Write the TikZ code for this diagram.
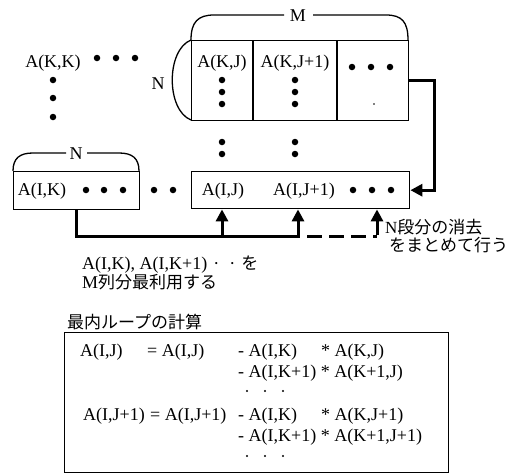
\documentclass[tikz,border=0pt]{standalone}
\usepackage{fontspec}
\setmainfont{Liberation Serif}
\newfontfamily\cjk{Noto Sans CJK JP}
\usetikzlibrary{arrows.meta}
\begin{document}
\begin{tikzpicture}[x=1pt,y=-1pt,
  lbl/.style={font=\fontsize{18}{20}\selectfont, inner sep=0pt},
  jlbl/.style={font=\fontsize{17}{19}\selectfont, inner sep=0pt},
  box/.style={draw, line width=1.4pt, inner sep=0pt, anchor=north west},
  thickline/.style={line width=3pt},
  arr/.style={line width=3pt, -{Triangle[length=12pt,width=12pt]}},
  bigdot/.style={circle, fill, inner sep=0pt, minimum size=6.5pt},
  smalldot/.style={circle, fill, inner sep=0pt, minimum size=2.4pt},
  brace/.style={line width=1.3pt},
  divider/.style={line width=1.4pt}]
\useasboundingbox (0,0) rectangle (520,474);

% ---- top box (row K) ----
\node[box, minimum width=217pt, minimum height=80pt] (kbox) at (191,40) {};
\draw[divider] (253,40) -- (253,120);
\draw[divider] (337,40) -- (337,120);
\node[lbl, anchor=base] (kj) at (222,67) {A(K,J)};
\node[lbl, anchor=base] (kj1) at (295,67) {A(K,J+1)};
\foreach \yy [count=\i] in {80,92,104} {
  \node[bigdot] (kjd\i) at (222,\yy) {};
  \node[bigdot] (kj1d\i) at (295,\yy) {};
}
\foreach \xx [count=\i] in {352,371,390} \node[bigdot] (kcd\i) at (\xx,67) {};
\node[smalldot, minimum size=1.8pt] (kcs) at (374,104) {};

% M brace
\draw[brace] (191,40) .. controls (191,22) and (198,15) .. (214,15) -- (284,15);
\draw[brace] (313,15) -- (386,15) .. controls (402,15) and (408,22) .. (408,40);
\node[lbl, anchor=base] (mlab) at (298,21) {M};
% N bracket (left of top box)
\draw[brace] (191,40) .. controls (166,50) and (166,110) .. (191,120);
\node[lbl, anchor=base] (nlab) at (158,89) {N};

% ---- A(K,K) ----
\node[lbl, anchor=base] (kk) at (53,67) {A(K,K)};
\foreach \xx [count=\i] in {97,116,135} \node[bigdot] (kkh\i) at (\xx,58) {};
\foreach \yy [count=\i] in {80,98,117} \node[bigdot] (kkv\i) at (53,\yy) {};

% dots between boxes
\foreach \yy [count=\i] in {142,154} {
  \node[bigdot] (mja\i) at (222,\yy) {};
  \node[bigdot] (mjb\i) at (295,\yy) {};
}

% ---- bottom left box ----
\node[box, minimum width=126pt, minimum height=38pt] (lbox) at (13,171) {};
\node[lbl, anchor=base] (ik) at (42,195) {A(I,K)};
\foreach \xx [count=\i] in {86,104,123} \node[bigdot] (ikd\i) at (\xx,190) {};
\draw[brace] (13,171) .. controls (13,158) and (20,153) .. (33,153) -- (66,153);
\draw[brace] (87,153) -- (119,153) .. controls (132,153) and (139,158) .. (139,171);
\node[lbl, anchor=base] (nlab2) at (76,159) {N};
\foreach \xx [count=\i] in {154,173} \node[bigdot] (md\i) at (\xx,190) {};

% ---- bottom right box ----
\node[box, minimum width=218pt, minimum height=37pt] (ibox) at (191,171) {};
\node[lbl, anchor=base] (ij) at (223,195) {A(I,J)};
\node[lbl, anchor=base] (ij1) at (304,195) {A(I,J+1)};
\foreach \xx [count=\i] in {353,372,391} \node[bigdot] (ijd\i) at (\xx,190) {};

% ---- connectors ----
\draw[arr] (kbox.east) -- ++(25,0) |- (ibox.east);
\coordinate (a1) at (222,236);
\coordinate (a2) at (298,236);
\coordinate (a3) at (377,236);
\coordinate (dstart) at (300,236);
\draw[thickline] (lbox.south) |- (dstart);
\draw[thickline, dash pattern=on 15pt off 7pt, dash phase=15pt] (dstart) -- (a3);
\draw[arr] ([yshift=1.5pt]a1) -- (a1 |- ibox.south);
\draw[arr] ([yshift=1.5pt]a2) -- (a2 |- ibox.south);
\draw[arr] ([yshift=1.5pt]a3) -- (a3 |- ibox.south);

% ---- annotations ----
\node[jlbl, anchor=base west] (t1) at (385,233) {N{\cjk 段分の消去}};
\node[jlbl, anchor=base west] (t2) at (389,251) {\cjk をまとめて行う};
\node[jlbl, anchor=base west] (t3) at (82,269) {\fontsize{18}{20}\selectfont A(I,K), A(I,K+1)\hspace{6pt}·\hspace{10pt}·\hspace{6pt}{\fontsize{17}{19}\selectfont\cjk を}};
\node[jlbl, anchor=base west] (t4) at (82,288) {\fontsize{18}{20}\selectfont M{\fontsize{17}{19}\selectfont\cjk 列分最利用する}};

% ---- equation box ----
\node[jlbl, anchor=base west] (title) at (67,328) {\cjk 最内ループの計算};
\node[box, minimum width=384pt, minimum height=140pt] (ebox) at (64,332) {};

\node[lbl, anchor=base west] (e11) at (80,356) {A(I,J)};
\node[lbl, anchor=base west] (e12) at (147,356) {= A(I,J)};
\node[lbl, anchor=base west] (e13) at (238,356) {- A(I,K)};
\node[lbl, anchor=base west] (e14) at (321,356) {* A(K,J)};
\node[lbl, anchor=base west] (e2) at (238,377) {- A(I,K+1) * A(K+1,J)};
\foreach \xx [count=\i] in {247,265,283} \node[smalldot] (e3d\i) at (\xx,391) {};
\node[lbl, anchor=base west] (e41) at (83,420) {A(I,J+1)};
\node[lbl, anchor=base west] (e42) at (150,420) {= A(I,J+1)};
\node[lbl, anchor=base west] (e43) at (238,420) {- A(I,K)};
\node[lbl, anchor=base west] (e44) at (321,420) {* A(K,J+1)};
\node[lbl, anchor=base west] (e5) at (238,441) {- A(I,K+1) * A(K+1,J+1)};
\foreach \xx [count=\i] in {247,265,283} \node[smalldot] (e6d\i) at (\xx,456) {};
\end{tikzpicture}
\end{document}
